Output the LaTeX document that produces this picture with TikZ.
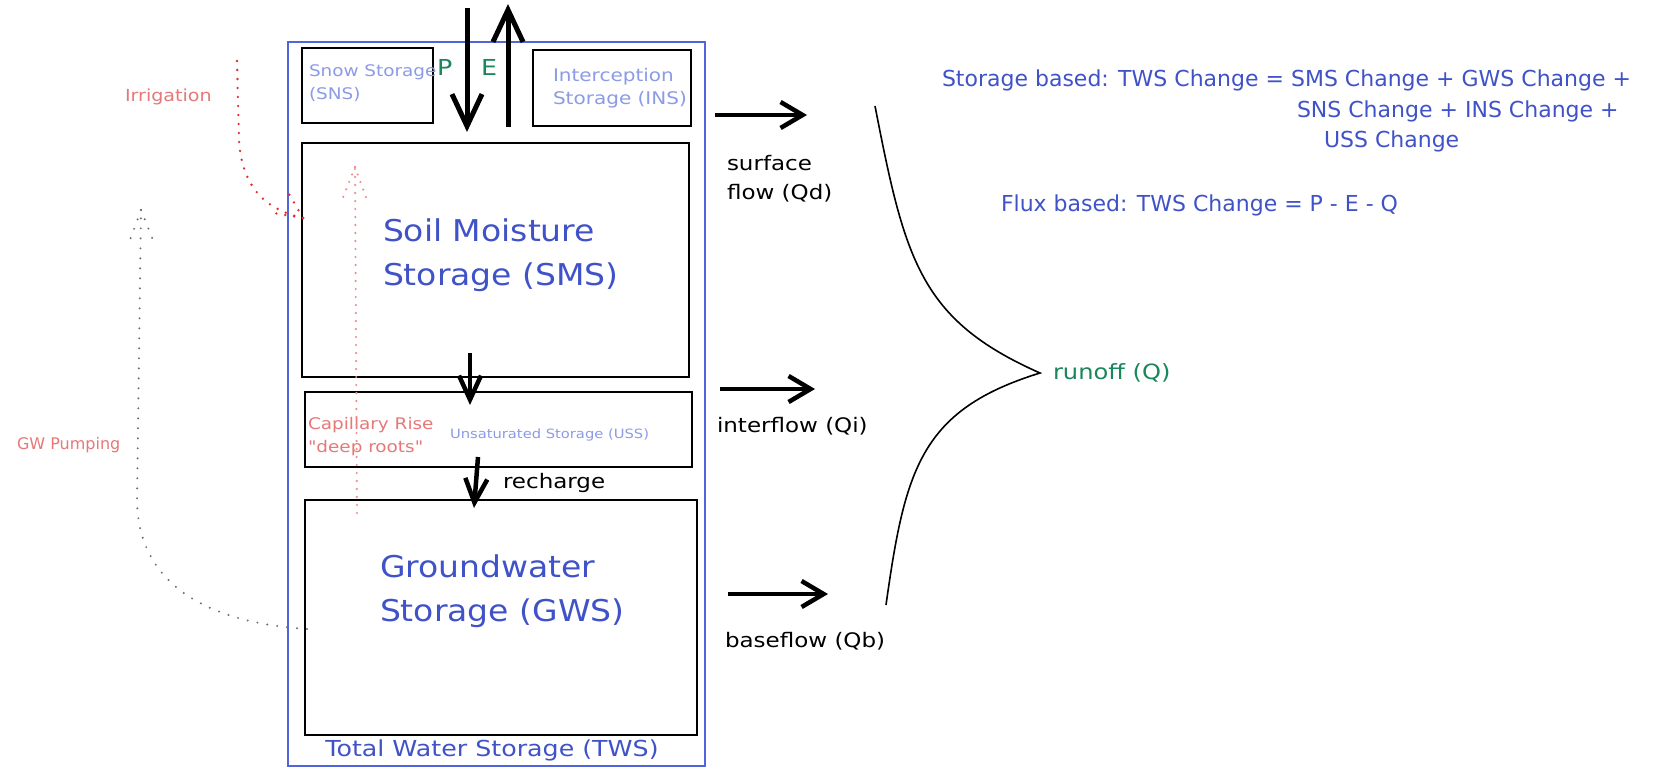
\documentclass[tikz,border=0pt]{standalone}
\usepackage{fontspec}
\setmainfont{DejaVu Sans}[FakeStretch=1.15]
\newfontfamily\eqfont{DejaVu Sans}
\newfontfamily\bigfont{DejaVu Sans}[FakeStretch=1.1]
\newfontfamily\qfont{DejaVu Sans}[FakeStretch=1.15, Ligatures=TeXOff]
\usetikzlibrary{arrows.meta}
\definecolor{dblue}{RGB}{64,82,200}
\definecolor{lblue}{RGB}{140,155,230}
\definecolor{tblue}{RGB}{80,100,220}
\definecolor{dgreen}{RGB}{25,135,90}
\definecolor{salmon}{RGB}{230,120,120}
\definecolor{irred}{RGB}{225,45,45}
\definecolor{cappink}{RGB}{240,140,140}
\definecolor{pgrey}{RGB}{110,110,110}
\tikzset{
  store/.style={draw=black, line width=2pt, outer sep=0pt, inner sep=0pt},
  lbl/.style={anchor=west, inner sep=0pt, outer sep=0pt, align=left},
  bigtxt/.style={lbl, text=dblue, font=\bigfont\fontsize{30pt}{44pt}\selectfont},
  smalltxt/.style={lbl, text=lblue, font=\fontsize{16pt}{23pt}\selectfont},
  flowtxt/.style={lbl, text=black, font=\fontsize{20pt}{29pt}\selectfont},
  redtxt/.style={lbl, text=salmon, font=\fontsize{16pt}{23pt}\selectfont},
  eqtxt/.style={lbl, text=dblue, font=\eqfont\fontsize{22pt}{30pt}\selectfont},
  fatarrow/.style={line width=5pt, -{Straight Barb[length=32pt,width=30pt]}},
  flowarrow/.style={line width=4.5pt, -{Straight Barb[length=22pt,width=26pt]}},
  midarrow/.style={line width=4.5pt, -{Straight Barb[length=24pt,width=22pt]}},
  irrdot/.style={draw=irred, line width=2.6pt, line cap=round, dash pattern=on 0pt off 9pt},
  capdot/.style={draw=cappink, line width=2.4pt, line cap=round, dash pattern=on 0pt off 8pt},
  gwdot/.style={draw=pgrey, line width=2.2pt, line cap=round, dash pattern=on 0pt off 10pt},
}
\begin{document}
\begin{tikzpicture}[x=1pt,y=-1pt]
\useasboundingbox[fill=white] (0,0) rectangle (1664,768);

% boxes
\node[store, draw=tblue, minimum width=417pt, minimum height=724pt] (tws) at (496.5,404) {};
\node[store, minimum width=131pt, minimum height=75pt] (sns) at (367.5,85.5) {};
\node[store, minimum width=158pt, minimum height=76pt] (ins) at (612,88) {};
\node[store, minimum width=387pt, minimum height=234pt] (sms) at (495.5,260) {};
\node[store, minimum width=387pt, minimum height=75pt] (uss) at (498.5,429.5) {};
\node[store, minimum width=392pt, minimum height=235pt] (gws) at (501,617.5) {};

% box texts
\node[smalltxt] (snstxt) at (309,83.5) {Snow Storage\\(SNS)};
\node[smalltxt, font=\fontsize{17.4pt}{23pt}\selectfont] (instxt) at (553,88) {Interception\\Storage (INS)};
\node[bigtxt] (smstxt) at (383,255) {Soil Moisture\\Storage (SMS)};
\node[bigtxt] (gwstxt) at (380,591) {Groundwater\\Storage (GWS)};
\node[lbl, text=lblue, font=\fontsize{12.8pt}{16pt}\selectfont] (usstxt) at (450,435) {Unsaturated Storage (USS)};
\node[anchor=center, inner sep=0pt, text=dblue, font=\fontsize{22pt}{26pt}\selectfont] (twstxt) at (492,750) {Total Water Storage (TWS)};

% P and E
\node[lbl, text=dgreen, font=\fontsize{22pt}{26pt}\selectfont] (plbl) at (437,67) {P};
\node[lbl, text=dgreen, font=\fontsize{22pt}{26pt}\selectfont] (elbl) at (481,67) {E};
\coordinate (ptop) at (467,8);
\coordinate (pend) at (467,132);
\coordinate (estart) at (508,127);
\coordinate (eend) at (508,4);
\draw[fatarrow] (ptop) -- (pend);
\draw[fatarrow] (estart) -- (eend);

% internal fluxes
\coordinate (smsout) at (470,353);
\coordinate (ussin) at (470,405);
\coordinate (ussout) at (478,457);
\coordinate (gwsin) at (474,508);
\draw[midarrow] (smsout) -- (ussin);
\draw[midarrow] (ussout) -- (gwsin);
\node[flowtxt] (rech) at (503,483) {recharge};

% outflows
\coordinate (qd0) at (715,115);
\coordinate (qd1) at (807,115);
\coordinate (qi0) at (720,389);
\coordinate (qi1) at (815,389);
\coordinate (qb0) at (728,594);
\coordinate (qb1) at (828,594);
\draw[flowarrow] (qd0) -- (qd1);
\draw[flowarrow] (qi0) -- (qi1);
\draw[flowarrow] (qb0) -- (qb1);
\node[flowtxt] (qdtxt) at (727,178.5) {surface\\flow (Qd)};
\node[flowtxt] (qitxt) at (717,426) {interflow (Qi)};
\node[flowtxt] (qbtxt) at (725,641) {baseflow (Qb)};

% brace to runoff
\coordinate (btop) at (875,106);
\coordinate (bbot) at (886,605);
\coordinate (bpt) at (1040,373);
\draw[line width=1.6pt] (btop) .. controls (905,260) and (920,320) .. (bpt)
  .. controls (920,410) and (905,470) .. (bbot);
\node[lbl, text=dgreen, font=\fontsize{21pt}{24pt}\selectfont] (runoff) at (1053,373) {runoff (Q)};

% equations
\node[eqtxt] (eq1) at (942,80) {Storage based: TWS Change = SMS Change + GWS Change +};
\node[eqtxt] (eq2) at (1297,111) {SNS Change + INS Change +};
\node[eqtxt] (eq3) at (1324,141) {USS Change};
\node[eqtxt] (eq4) at (1001,205) {Flux based: TWS Change = P - E - Q};

% irrigation
\node[redtxt, font=\fontsize{16.6pt}{23pt}\selectfont] (irrtxt) at (125,97) {Irrigation};
\coordinate (irr0) at (237,61);
\coordinate (irr1) at (303,218);
\path[irrdot] (irr0) -- (239,140) .. controls (242,190) and (268,210) .. (irr1);
\path[irrdot] (irr1) -- ++(-27.6,-4.7);
\path[irrdot] (irr1) -- ++(-14.1,-24.2);

% capillary rise
\node[redtxt, font=\qfont\fontsize{16pt}{23pt}\selectfont] (captxt) at (308,436.5) {Capillary Rise\\"deep roots"};
\coordinate (cap0) at (357,513);
\coordinate (cap1) at (355,167);
\path[capdot] (cap0) -- (cap1);
\path[capdot] (cap1) -- ++(-13,33);
\path[capdot] (cap1) -- ++(12,33);

% GW pumping
\node[redtxt, font=\eqfont\fontsize{16pt}{23pt}\selectfont] (gwptxt) at (17,445) {GW Pumping};
\coordinate (gw0) at (307,629);
\coordinate (gw1) at (141,210);
\path[gwdot] (gw0) .. controls (200,622) and (138,580) .. (137,500) -- (gw1);
\path[gwdot] (gw1) -- ++(-11,30);
\path[gwdot] (gw1) -- ++(12,30);
\end{tikzpicture}
\end{document}
